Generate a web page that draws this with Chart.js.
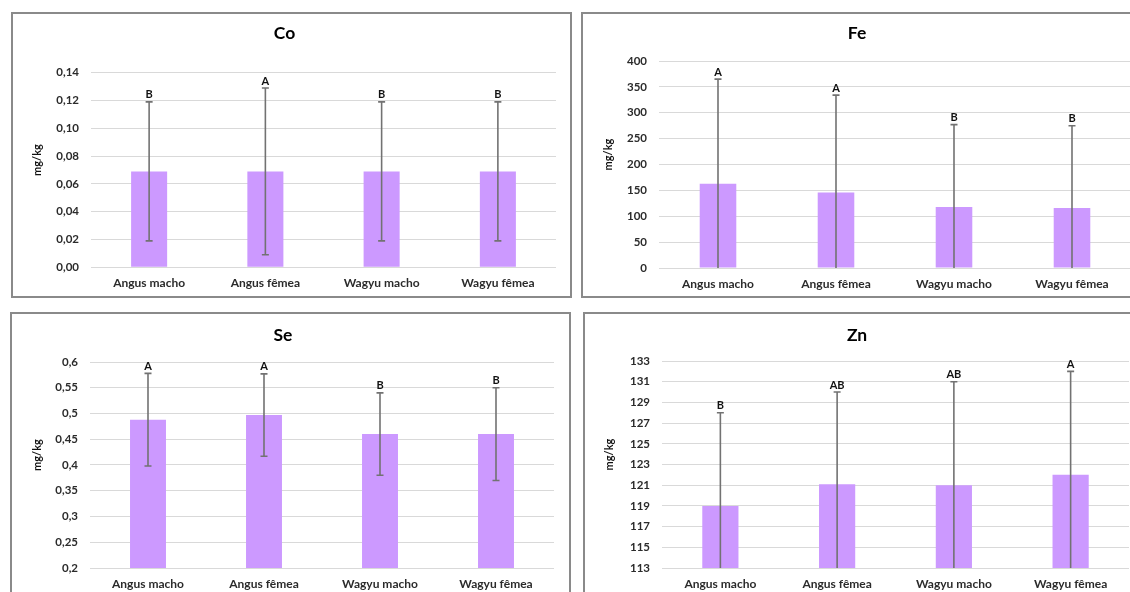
<!DOCTYPE html>
<html>
<head>
<meta charset="utf-8">
<script src="https://cdn.jsdelivr.net/npm/chart.js@4.4.1/dist/chart.umd.min.js"></script>
<style>
  html, body { margin: 0; padding: 0; background: #fff; width: 1130px; height: 592px; overflow: hidden; position: relative; }
  .panel { position: absolute; border: 2px solid #8a8a8a; box-sizing: border-box; background: #fff; }
  .panel canvas { display: block; }
</style>
</head>
<body>
<div class="panel" style="left:11px;top:12px;width:561px;height:286px"><canvas id="c-co" width="557" height="282"></canvas></div>
<div class="panel" style="left:581px;top:12px;width:562px;height:286px"><canvas id="c-fe" width="558" height="282"></canvas></div>
<div class="panel" style="left:10px;top:312px;width:561px;height:292px"><canvas id="c-se" width="557" height="288"></canvas></div>
<div class="panel" style="left:583px;top:312px;width:562px;height:292px"><canvas id="c-zn" width="558" height="288"></canvas></div>

<script>
// Groups
const categories = ['Angus macho', 'Angus fêmea', 'Wagyu macho', 'Wagyu fêmea'];

// Cobalto (mg/kg)
const coMean = [0.069, 0.069, 0.069, 0.069];
const coSd = [0.05, 0.06, 0.05, 0.05];
const coLetters = ['B', 'A', 'B', 'B'];
const coTicks = ['0,00', '0,02', '0,04', '0,06', '0,08', '0,10', '0,12', '0,14'];

// Ferro (mg/kg)
const feMean = [163, 146, 118, 116];
const feSd = [202, 188, 159, 159];
const feLetters = ['A', 'A', 'B', 'B'];
const feTicks = ['0', '50', '100', '150', '200', '250', '300', '350', '400'];

// Selênio (mg/kg)
const seMean = [0.488, 0.497, 0.46, 0.46];
const seSd = [0.09, 0.08, 0.08, 0.09];
const seLetters = ['A', 'A', 'B', 'B'];
const seTicks = ['0,2', '0,25', '0,3', '0,35', '0,4', '0,45', '0,5', '0,55', '0,6'];

// Zinco (mg/kg)
const znMean = [119, 121.1, 121, 122];
const znSd = [9, 8.9, 10, 10];
const znLetters = ['B', 'AB', 'AB', 'A'];
const znTicks = ['113', '115', '117', '119', '121', '123', '125', '127', '129', '131', '133'];

const FONT = 'Lato, "Liberation Sans", sans-serif';

// Draws the ± SD whiskers, the significance letters and the rotated unit label
const errorBarPlugin = {
  id: 'errorBars',
  afterDatasetsDraw(chart) {
    const { ctx, chartArea, scales: { y } } = chart;
    const ds = chart.data.datasets[0];
    const meta = chart.getDatasetMeta(0);
    ctx.save();
    ctx.beginPath();
    ctx.rect(chartArea.left, chartArea.top - 40, chartArea.right - chartArea.left, chartArea.bottom - chartArea.top + 40);
    ctx.clip();
    meta.data.forEach((bar, i) => {
      const m = ds.data[i], s = ds.sd[i];
      const xc = bar.x;
      const yTop = y.getPixelForValue(m + s);
      const lowVal = Math.max(m - s, y.min);
      const yBot = y.getPixelForValue(lowVal);
      ctx.strokeStyle = '#727272';
      ctx.lineWidth = 1.6;
      ctx.beginPath();
      ctx.moveTo(xc, yTop);
      ctx.lineTo(xc, yBot);
      ctx.moveTo(xc - 3.5, yTop);
      ctx.lineTo(xc + 3.5, yTop);
      if (m - s > y.min) {
        ctx.moveTo(xc - 3.5, yBot);
        ctx.lineTo(xc + 3.5, yBot);
      }
      ctx.stroke();
      ctx.fillStyle = '#111';
      ctx.font = 'bold 11px ' + FONT;
      ctx.textAlign = 'center';
      ctx.textBaseline = 'middle';
      ctx.fillText(ds.letters[i], xc, yTop - 7);
    });
    ctx.restore();

    ctx.save();
    ctx.translate(ds.unitX, (chartArea.top + chartArea.bottom) / 2 - 10);
    ctx.rotate(-Math.PI / 2);
    ctx.fillStyle = '#111';
    ctx.font = 'bold 11px ' + FONT;
    ctx.textAlign = 'center';
    ctx.textBaseline = 'middle';
    ctx.fillText('mg/kg', 0, 0);
    ctx.restore();
  }
};

function makeChart(id, cfg) {
  new Chart(document.getElementById(id), {
    type: 'bar',
    data: {
      labels: categories,
      datasets: [{
        data: cfg.mean,
        sd: cfg.sd,
        letters: cfg.letters,
        unitX: cfg.unitX,
        backgroundColor: '#cc99ff',
        borderWidth: 0,
        categoryPercentage: 1,
        barPercentage: 0.31
      }]
    },
    options: {
      responsive: false,
      animation: false,
      layout: { padding: { left: 0, right: cfg.padRight, top: 0, bottom: cfg.padBottom } },
      plugins: {
        legend: { display: false },
        tooltip: { enabled: false },
        title: {
          display: true,
          text: cfg.title,
          color: '#000',
          font: { family: FONT, size: 17.5, weight: 'bold' },
          padding: { top: cfg.titleTop - 0.9, bottom: cfg.titleBottom - 0.9 }
        }
      },
      scales: {
        x: {
          grid: { display: false, drawTicks: false },
          border: { display: false },
          ticks: { color: '#2b2b2b', font: { family: FONT, size: 12, weight: 'bold' }, padding: 9, maxRotation: 0 },
          afterFit(scale) { scale.height = 24; }
        },
        y: {
          min: cfg.min,
          max: cfg.max,
          grid: { color: '#d9d9d9', lineWidth: 1, drawTicks: false },
          border: { display: false },
          ticks: {
            stepSize: cfg.step,
            color: '#2b2b2b',
            font: { family: FONT, size: 11.5, weight: 'bold' },
            padding: 12,
            callback: (v, i) => cfg.ticks[i]
          },
          afterFit(scale) { scale.width = cfg.yWidth; }
        }
      }
    },
    plugins: [errorBarPlugin]
  });
}

makeChart('c-co', { title: 'Co', mean: coMean, sd: coSd, letters: coLetters, ticks: coTicks,
  min: 0, max: 0.14, step: 0.02, yWidth: 78, padRight: 14, padBottom: 4.7, titleTop: 9.5, titleBottom: 30, unitX: 24 });
makeChart('c-fe', { title: 'Fe', mean: feMean, sd: feSd, letters: feLetters, ticks: feTicks,
  min: 0, max: 400, step: 50, yWidth: 76, padRight: 10, padBottom: 4, titleTop: 9.4, titleBottom: 18.4, unitX: 25 });
makeChart('c-se', { title: 'Se', mean: seMean, sd: seSd, letters: seLetters, ticks: seTicks,
  min: 0.2, max: 0.6, step: 0.05, yWidth: 78, padRight: 15, padBottom: 10, titleTop: 11.4, titleBottom: 17.4, unitX: 25 });
makeChart('c-zn', { title: 'Zn', mean: znMean, sd: znSd, letters: znLetters, ticks: znTicks,
  min: 113, max: 133, step: 2, yWidth: 77, padRight: 14, padBottom: 10, titleTop: 11.4, titleBottom: 16.4, unitX: 24 });
</script>
</body>
</html>
